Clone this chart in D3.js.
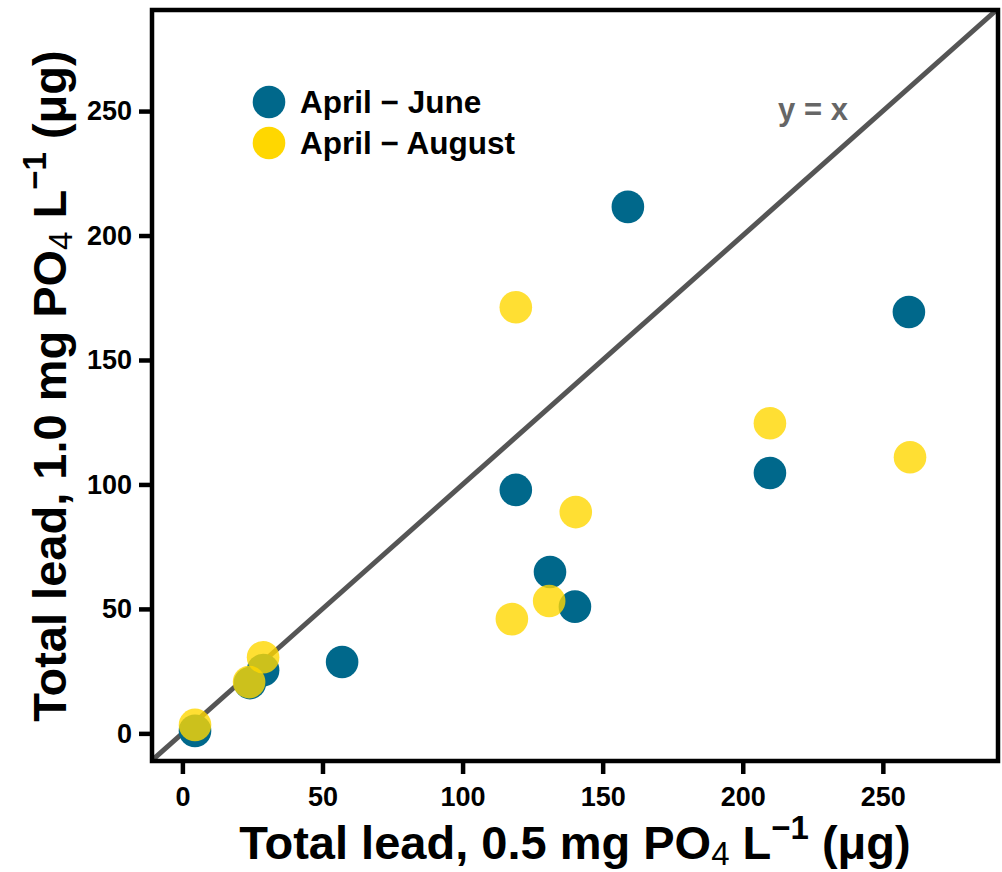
<!DOCTYPE html>
<html>
<head>
<meta charset="utf-8">
<script src="https://cdn.jsdelivr.net/npm/d3@7"></script>
<style>
  body { margin: 0; background: #fff; }
  svg { display: block; font-family: "Liberation Sans", Arial, sans-serif; }
</style>
</head>
<body>
<svg id="chart" width="1002" height="872"></svg>
<script>
// Data (total lead, µg)
const juneX = [159.0, 259.3, 119.0, 209.7, 131.2, 140.1, 57.0, 28.8, 24.1, 4.5];
const juneY = [211.5, 169.3, 97.8, 104.6, 64.8, 50.9, 28.7, 25.4, 20.2, 1.0];
const augustX = [119.0, 209.7, 259.7, 140.4, 117.6, 130.9, 28.8, 23.8, 4.5];
const augustY = [171.2, 124.6, 110.9, 88.9, 45.9, 53.2, 30.6, 20.6, 3.4];
const seriesNames = ["April \u2212 June", "April \u2212 August"];
const seriesColors = ["#00688B", "#FFD700"];
const seriesAlpha = [1, 0.8];
const tickValues = [0, 50, 100, 150, 200, 250];

const svg = d3.select("#chart");
const panel = { left: 152, right: 998, top: 10, bottom: 761 };

const x = d3.scaleLinear().domain([-10.85, 291.1]).range([panel.left, panel.right]);
const y = d3.scaleLinear().domain([-11.1, 290.6]).range([panel.bottom, panel.top]);

svg.append("defs").append("clipPath").attr("id", "clip")
  .append("rect")
  .attr("x", panel.left).attr("y", panel.top)
  .attr("width", panel.right - panel.left)
  .attr("height", panel.bottom - panel.top);

// y = x reference line
const plot = svg.append("g").attr("clip-path", "url(#clip)");
plot.append("line")
  .attr("x1", x(-20)).attr("y1", y(-20))
  .attr("x2", x(310)).attr("y2", y(310))
  .attr("stroke", "#555555")
  .attr("stroke-width", 5);

// points: June first, August over it
const june = juneX.map((v, i) => ({ x: v, y: juneY[i] }));
const august = augustX.map((v, i) => ({ x: v, y: augustY[i] }));
[june, august].forEach((pts, s) => {
  plot.append("g").selectAll("circle")
    .data(pts)
    .join("circle")
    .attr("cx", d => x(d.x))
    .attr("cy", d => y(d.y))
    .attr("r", 16.3)
    .attr("fill", seriesColors[s])
    .attr("fill-opacity", seriesAlpha[s]);
});

// axes
const xAxis = svg.append("g")
  .attr("transform", `translate(0,${panel.bottom})`)
  .call(d3.axisBottom(x).tickValues(tickValues).tickSize(13).tickPadding(13));
const yAxis = svg.append("g")
  .attr("transform", `translate(${panel.left},0)`)
  .call(d3.axisLeft(y).tickValues(tickValues).tickSize(13).tickPadding(7));
[xAxis, yAxis].forEach(ax => {
  ax.select(".domain").remove();
  ax.selectAll(".tick line").attr("stroke", "#000").attr("stroke-width", 4.5);
  ax.selectAll(".tick text")
    .attr("fill", "#000")
    .attr("font-size", 27)
    .attr("font-weight", "bold")
    .attr("font-family", "Liberation Sans, Arial, sans-serif");
});

// panel border
svg.append("rect")
  .attr("x", panel.left).attr("y", panel.top)
  .attr("width", panel.right - panel.left)
  .attr("height", panel.bottom - panel.top)
  .attr("fill", "none")
  .attr("stroke", "#000")
  .attr("stroke-width", 4.5);

// y = x label
svg.append("text")
  .attr("x", 813).attr("y", 120)
  .attr("text-anchor", "middle")
  .attr("font-size", 31)
  .attr("font-weight", "bold")
  .attr("fill", "#666666")
  .text("y = x");

// legend
const legend = svg.append("g").attr("transform", "translate(269,102)");
seriesNames.forEach((name, i) => {
  const row = legend.append("g").attr("transform", `translate(0,${i * 41})`);
  row.append("circle").attr("r", 16.3).attr("fill", seriesColors[i]);
  row.append("text")
    .attr("x", 31).attr("y", 11)
    .attr("font-size", 31.5)
    .attr("font-weight", "bold")
    .attr("fill", "#000")
    .text(name);
});

// axis titles with subscript / superscript
function axisTitle(sel, dose) {
  sel.attr("font-size", 47).attr("font-weight", "bold").attr("fill", "#000")
    .attr("text-anchor", "middle");
  sel.append("tspan").text(`Total lead, ${dose} mg PO`);
  sel.append("tspan").attr("font-size", 33).attr("font-weight", "normal")
    .attr("dy", 6).text("4");
  sel.append("tspan").attr("dy", -6).text(" L");
  sel.append("tspan").attr("font-size", 33).attr("dy", -20).text("\u22121");
  sel.append("tspan").attr("dy", 20).text(" (\u03bcg)");
}

svg.append("text")
  .attr("x", 575).attr("y", 859)
  .call(axisTitle, "0.5");

svg.append("text")
  .attr("transform", "translate(66,386) rotate(-90)")
  .call(axisTitle, "1.0");
</script>
</body>
</html>
